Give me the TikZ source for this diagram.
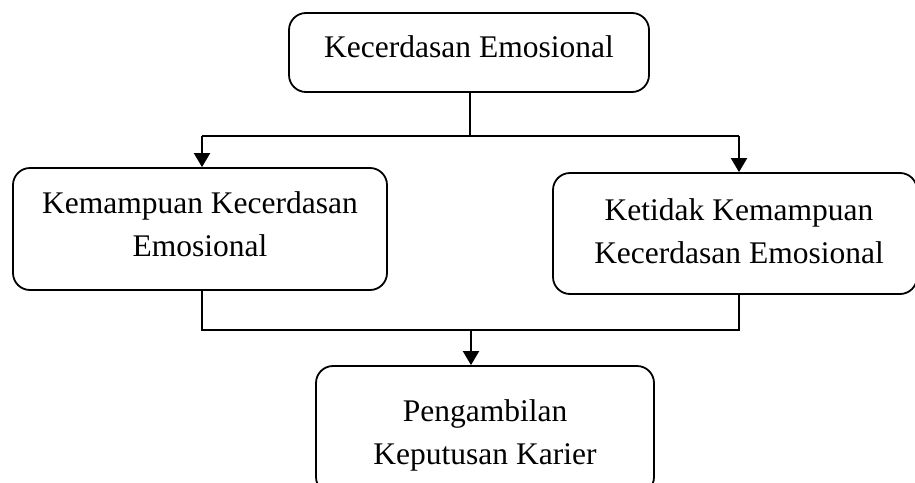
\documentclass[tikz,border=0pt]{standalone}
\usepackage{fontspec}
\setmainfont{Liberation Serif}
\usetikzlibrary{arrows.meta}
\begin{document}
\begin{tikzpicture}[x=1pt,y=1pt,
  boxshape/.style={draw, line width=1.8pt, rounded corners=17pt, inner sep=0pt},
  lbl/.style={font=\fontsize{31.5}{43}\selectfont, align=center, inner sep=0pt},
  conn/.style={line width=2pt},
  arr/.style={line width=2pt, -{Triangle[length=14pt,width=16pt]}}]
\useasboundingbox (0,0) rectangle (915,-482);
\clip (0,0) rectangle (915,-482);
% boxes
\node[boxshape, minimum width=360pt, minimum height=79pt] (top) at (469,-52.5) {};
\node[boxshape, minimum width=374pt, minimum height=122pt] (left) at (200,-229) {};
\node[boxshape, minimum width=364pt, minimum height=121pt] (right) at (735,-233.5) {};
\node[boxshape, minimum width=338pt, minimum height=128pt] (bottom) at (485,-430) {};
% texts
\node[lbl, anchor=base] (ttop) at (469,-57) {Kecerdasan Emosional};
\node[lbl] (tleft) at (200,-224) {Kemampuan Kecerdasan\\Emosional};
\node[lbl] (tright) at (739,-231) {Ketidak Kemampuan\\Kecerdasan Emosional};
\node[lbl] (tbottom) at (485,-435) {Pengambilan\\Keputusan Karier};
% junctions
\coordinate (j1) at (470,-136);
\coordinate (jl) at (202,-136);
\coordinate (jr) at (739,-136);
\coordinate (kl) at (202,-330);
\coordinate (kr) at (739,-330);
\coordinate (km) at (471,-330);
% connectors
\draw[conn] (top.south -| j1) -- (j1);
\draw[conn] (jl) -- (jr);
\draw[arr] (jl) -- (jl |- left.north);
\draw[arr] (jr) -- (jr |- right.north);
\draw[conn] (kl |- left.south) -- (kl) -- (kr) -- (kr |- right.south);
\draw[arr] (km) -- (km |- bottom.north);
\end{tikzpicture}
\end{document}
